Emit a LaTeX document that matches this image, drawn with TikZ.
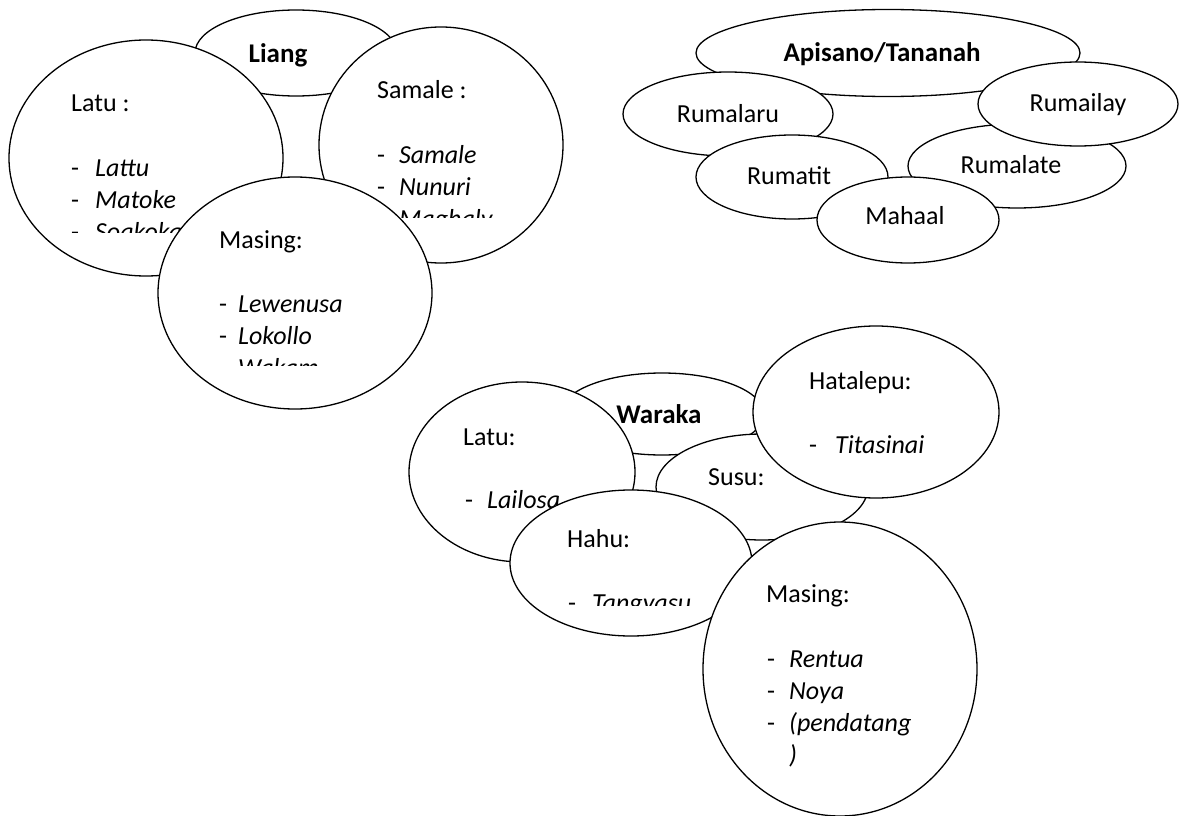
\documentclass[tikz,border=0pt]{standalone}
\usepackage{fontspec}
\setmainfont{Carlito}
\usetikzlibrary{shapes.geometric}
\newcommand{\entry}[2]{\makebox[#1pt][l]{-}\textit{#2}}
\begin{document}
\begin{tikzpicture}[x=1pt,y=-1pt,
  bubble/.style={ellipse, draw=black, fill=white, line width=1.3pt, inner sep=0pt},
  headtxt/.style={anchor=base, inner sep=0pt, font=\fontsize{27}{32}\selectfont\bfseries},
  labeltxt/.style={anchor=base, inner sep=0pt, font=\fontsize{26}{32}\selectfont},
  rowtxt/.style={anchor=base west, inner sep=0pt, font=\fontsize{26}{32}\selectfont}]
\useasboundingbox (0,0) rectangle (1187,816);
\fill[white] (0,0) rectangle (1187,816);

% ---------------- Liang ----------------
\node[bubble, minimum width=202pt, minimum height=86pt] (liang) at (296,53) {};
\node[headtxt] (liangT) at (278,63) {Liang};

\node[bubble, minimum width=274pt, minimum height=236pt] (latu) at (146,158) {};
\begin{scope}
  \clip (40,70) rectangle (280,232);
  \node[rowtxt] (latu0) at (71,112) {Latu :};
  \node[rowtxt] (latu1) at (71,176) {\entry{24}{Lattu}};
  \node[rowtxt] (latu2) at (71,208) {\entry{24}{Matoke}};
  \node[rowtxt] (latu3) at (71,240) {\entry{24}{Soakokane}};
\end{scope}

\node[bubble, minimum width=244pt, minimum height=236pt] (samale) at (441,145) {};
\begin{scope}
  \clip (340,50) rectangle (560,217);
  \node[rowtxt] (samale0) at (377,99) {Samale :};
  \node[rowtxt] (samale1) at (377,163) {\entry{22}{Samale}};
  \node[rowtxt] (samale2) at (377,195) {\entry{22}{Nunuri}};
  \node[rowtxt] (samale3) at (377,227) {\entry{22}{Maghaly}};
\end{scope}

\node[bubble, minimum width=274pt, minimum height=232pt] (masing) at (295,293) {};
\begin{scope}
  \clip (180,200) rectangle (420,365);
  \node[rowtxt] (masing0) at (219,248) {Masing:};
  \node[rowtxt] (masing1) at (219,312) {\entry{19}{Lewenusa}};
  \node[rowtxt] (masing2) at (219,344) {\entry{19}{Lokollo}};
  \node[rowtxt] (masing3) at (219,376) {\entry{19}{Wakam}};
\end{scope}

% ---------------- Apisano/Tananah ----------------
\node[bubble, minimum width=384pt, minimum height=87pt] (apisano) at (888,53) {};
\node[headtxt] (apisanoT) at (882,62) {Apisano/Tananah};
\node[bubble, minimum width=210pt, minimum height=84pt] (rumalaru) at (728,114) {};
\node[labeltxt] (rumalaruT) at (728,122) {Rumalaru};
\node[bubble, minimum width=192pt, minimum height=84pt] (rumatit) at (792,177) {};
\node[labeltxt] (rumatitT) at (789,184) {Rumatit};
\node[bubble, minimum width=218pt, minimum height=84pt] (rumalate) at (1017,166) {};
\node[labeltxt] (rumalateT) at (1011,173) {Rumalate};
\node[bubble, minimum width=200pt, minimum height=84pt] (rumailay) at (1078,104) {};
\node[labeltxt] (rumailayT) at (1078,111) {Rumailay};
\node[bubble, minimum width=182pt, minimum height=86pt] (mahaal) at (908,220) {};
\node[labeltxt] (mahaalT) at (905,224) {Mahaal};

% ---------------- Waraka ----------------
\node[bubble, minimum width=204pt, minimum height=82pt] (waraka) at (662,414) {};
\node[headtxt] (warakaT) at (659,423) {Waraka};

\node[bubble, minimum width=226pt, minimum height=180pt] (latuW) at (522,472) {};
\node[rowtxt] (latuW0) at (463,445) {Latu:};
\node[rowtxt] (latuW1) at (465,508) {\entry{22}{Lailosa}};

\node[bubble, minimum width=212pt, minimum height=106pt] (susu) at (762,487) {};
\node[rowtxt] (susu0) at (708,485) {Susu:};

\node[bubble, minimum width=246pt, minimum height=172pt] (hatalepu) at (876,412) {};
\node[rowtxt] (hatalepu0) at (809,389) {Hatalepu:};
\node[rowtxt] (hatalepu1) at (809,453) {\entry{26}{Titasinai}};

\node[bubble, minimum width=242pt, minimum height=146pt] (hahu) at (631,563) {};
\begin{scope}
  \clip (540,510) rectangle (740,605);
  \node[rowtxt] (hahu0) at (567,547) {Hahu:};
  \node[rowtxt] (hahu1) at (568,611) {\entry{24}{Tangyasu}};
\end{scope}

\node[bubble, minimum width=274pt, minimum height=294pt] (masingW) at (840,669) {};
\node[rowtxt] (masingW0) at (766,602) {Masing:};
\node[rowtxt] (masingW1) at (767,667) {\entry{22}{Rentua}};
\node[rowtxt] (masingW2) at (767,699) {\entry{22}{Noya}};
\node[rowtxt] (masingW3) at (767,731) {\entry{22}{(pendatang}};
\node[rowtxt] (masingW4) at (789,763) {\textit{)}};
\end{tikzpicture}
\end{document}
